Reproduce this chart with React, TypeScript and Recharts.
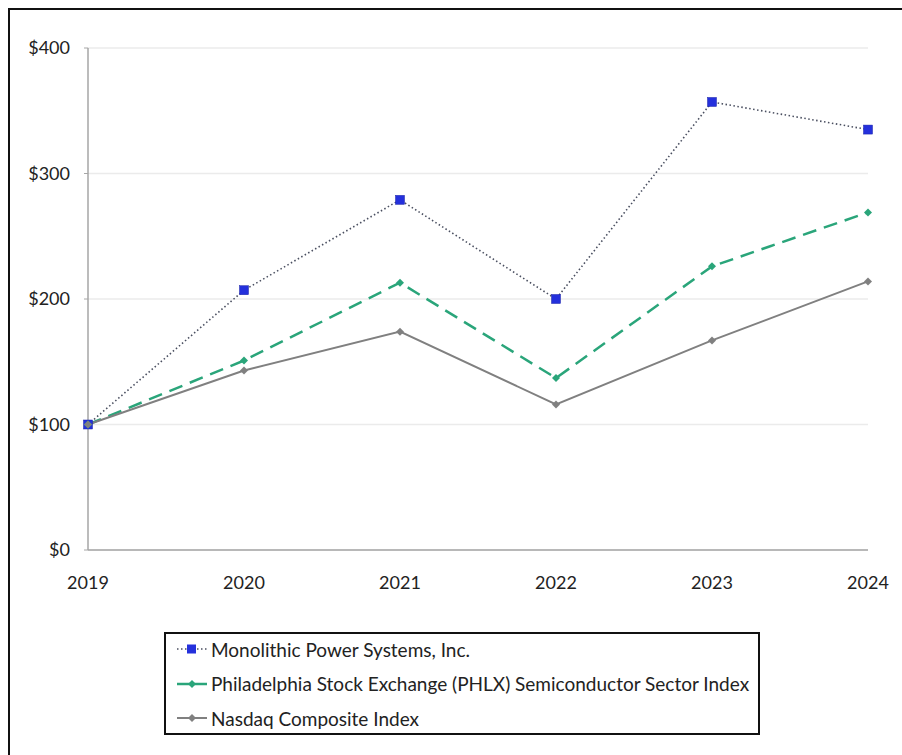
import React from "react";
import { LineChart, Line, XAxis, YAxis, CartesianGrid } from "recharts";

const years = ["2019", "2020", "2021", "2022", "2023", "2024"];
const mpsValues = [100, 207, 279, 200, 357, 335];
const phlxValues = [100, 151, 213, 137, 226, 269];
const nasdaqValues = [100, 143, 174, 116, 167, 214];
const yTicks = [0, 100, 200, 300, 400];

const seriesNames = {
    mps: "Monolithic Power Systems, Inc.",
    phlx: "Philadelphia Stock Exchange (PHLX) Semiconductor Sector Index",
    nasdaq: "Nasdaq Composite Index",
};

const chartData = years.map((year, i) => ({
    year,
    mps: mpsValues[i],
    phlx: phlxValues[i],
    nasdaq: nasdaqValues[i],
}));

const FONT = "Lato, 'Open Sans', sans-serif";

const SquareDot = (props: any) => {
    const { cx, cy } = props;
    if (cx == null || cy == null) return null;
    return <rect x={cx - 4.5} y={cy - 4.5} width={9} height={9} fill="#2430dc" stroke="#1a22a8" strokeWidth={0.5} />;
};

const DiamondDot = (color: string) => (props: any) => {
    const { cx, cy } = props;
    if (cx == null || cy == null) return null;
    return <path d={`M${cx},${cy - 4} L${cx + 4},${cy} L${cx},${cy + 4} L${cx - 4},${cy} Z`} fill={color} />;
};

const LegendBox = () => {
    const row = (icon: React.ReactNode, label: string) => (
        <div style={{ display: "flex", alignItems: "center", height: 34.5 }}>
            <svg width={36} height={12} style={{ marginRight: 2 }}>{icon}</svg>
            <span>{label}</span>
        </div>
    );
    return (
        <div
            style={{
                position: "absolute",
                left: 154,
                top: 622,
                width: 596,
                height: 103,
                border: "2px solid #111",
                boxSizing: "border-box",
                padding: "0 0 0 7px",
                fontFamily: FONT,
                fontSize: 19,
                color: "#222",
                background: "#fff",
                whiteSpace: "nowrap",
            }}
        >
            <div style={{ marginTop: -2 }}>
                {row(
                    <g>
                        <line x1={4} y1={6} x2={34} y2={6} stroke="#4a4f60" strokeWidth={1.5} strokeDasharray="1.5 2.5" />
                        <rect x={14} y={1.5} width={9} height={9} fill="#2430dc" />
                    </g>,
                    seriesNames.mps
                )}
                {row(
                    <g>
                        <line x1={4} y1={6} x2={34} y2={6} stroke="#2aa57a" strokeWidth={2.5} />
                        <path d="M19,2 L23,6 L19,10 L15,6 Z" fill="#2aa57a" />
                    </g>,
                    seriesNames.phlx
                )}
                {row(
                    <g>
                        <line x1={4} y1={6} x2={34} y2={6} stroke="#808080" strokeWidth={2} />
                        <path d="M19,2 L23,6 L19,10 L15,6 Z" fill="#808080" />
                    </g>,
                    seriesNames.nasdaq
                )}
            </div>
        </div>
    );
};

export default function App() {
    return (
        <div
            style={{
                position: "fixed",
                left: 8,
                top: 8,
                width: 894,
                height: 747,
                borderTop: "2px solid #111",
                borderLeft: "2px solid #111",
                boxSizing: "border-box",
                background: "#fff",
            }}
        >
            <div style={{ position: "absolute", left: 0, top: 0 }}>
                <LineChart
                    width={884}
                    height={585}
                    data={chartData}
                    margin={{ top: 38, right: 26, left: 0, bottom: 10 }}
                >
                    <CartesianGrid vertical={false} stroke="#ebebeb" strokeWidth={1.5} />
                    <XAxis
                        dataKey="year"
                        height={35}
                        axisLine={{ stroke: "#a6a6a6", strokeWidth: 1.5 }}
                        tickLine={false}
                        tickMargin={20}
                        tick={{ fontSize: 18, fill: "#222", fontFamily: FONT }}
                    />
                    <YAxis
                        width={78}
                        domain={[0, 400]}
                        ticks={yTicks}
                        axisLine={{ stroke: "#a6a6a6", strokeWidth: 1.5 }}
                        tickLine={{ stroke: "#a6a6a6" }}
                        tickSize={4}
                        tickMargin={14}
                        tickFormatter={(v: number) => `$${v}`}
                        tick={{ fontSize: 18, fill: "#222", fontFamily: FONT }}
                    />
                    <Line
                        dataKey="mps"
                        name={seriesNames.mps}
                        stroke="#4a4f60"
                        strokeWidth={1.6}
                        strokeDasharray="1.5 2.5"
                        dot={<SquareDot />}
                        activeDot={false}
                        isAnimationActive={false}
                    />
                    <Line
                        dataKey="phlx"
                        name={seriesNames.phlx}
                        stroke="#2aa57a"
                        strokeWidth={2.5}
                        strokeDasharray="14 8"
                        dot={DiamondDot("#2aa57a")}
                        activeDot={false}
                        isAnimationActive={false}
                    />
                    <Line
                        dataKey="nasdaq"
                        name={seriesNames.nasdaq}
                        stroke="#808080"
                        strokeWidth={2}
                        dot={DiamondDot("#808080")}
                        activeDot={false}
                        isAnimationActive={false}
                    />
                </LineChart>
            </div>
            <LegendBox />
        </div>
    );
}
